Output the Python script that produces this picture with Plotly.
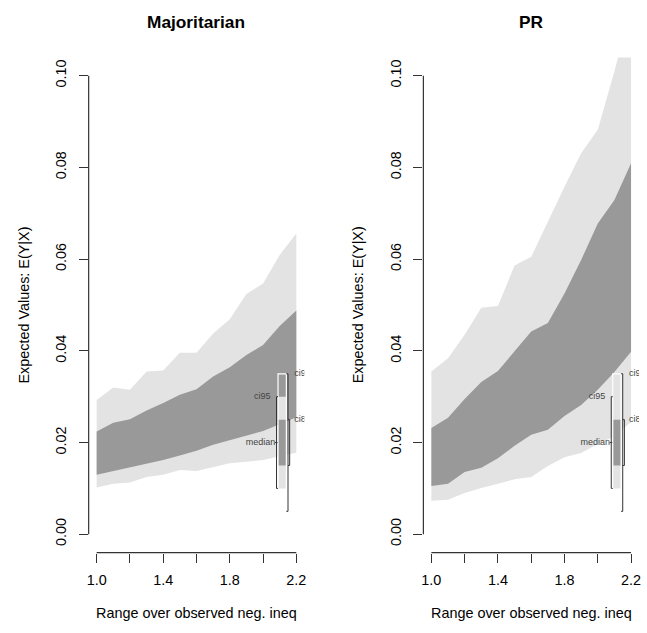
import plotly.graph_objects as go

# ---------------- data ----------------
x_vals = [1.0, 1.1, 1.2, 1.3, 1.4, 1.5, 1.6, 1.7, 1.8, 1.9, 2.0, 2.1, 2.2]

maj_lo95 = [0.0102, 0.0110, 0.0113, 0.0125, 0.0130, 0.0140, 0.0138, 0.0146, 0.0155, 0.0158, 0.0162, 0.0170, 0.0178]
maj_lo80 = [0.0130, 0.0138, 0.0145, 0.0153, 0.0162, 0.0172, 0.0182, 0.0195, 0.0205, 0.0215, 0.0225, 0.0240, 0.0255]
maj_hi80 = [0.0224, 0.0243, 0.0251, 0.0270, 0.0286, 0.0304, 0.0316, 0.0344, 0.0364, 0.0391, 0.0413, 0.0454, 0.0488]
maj_hi95 = [0.0293, 0.0320, 0.0315, 0.0355, 0.0357, 0.0396, 0.0396, 0.0438, 0.0469, 0.0524, 0.0547, 0.0609, 0.0656]

pr_lo95 = [0.0073, 0.0075, 0.0090, 0.0101, 0.0110, 0.0120, 0.0125, 0.0149, 0.0168, 0.0177, 0.0197, 0.0214, 0.0245]
pr_lo80 = [0.0105, 0.0110, 0.0136, 0.0145, 0.0166, 0.0193, 0.0217, 0.0228, 0.0258, 0.0282, 0.0315, 0.0354, 0.0398]
pr_hi80 = [0.0232, 0.0254, 0.0295, 0.0332, 0.0356, 0.0398, 0.0442, 0.0461, 0.0525, 0.0598, 0.0678, 0.0729, 0.0809]
pr_hi95 = [0.0355, 0.0384, 0.0435, 0.0494, 0.0498, 0.0586, 0.0605, 0.0682, 0.0758, 0.0831, 0.0882, 0.1010, 0.1150]

panel_titles = ["Majoritarian", "PR"]
x_ticks = [1.0, 1.2, 1.4, 1.6, 1.8, 2.0, 2.2]
x_ticktext = ["1.0", "", "1.4", "", "1.8", "", "2.2"]
y_ticks = [0.00, 0.02, 0.04, 0.06, 0.08, 0.10]
y_ticktext = ["0.00", "0.02", "0.04", "0.06", "0.08", "0.10"]

# legend key (interval levels used by the in-plot key)
key_999 = [0.005, 0.035]
key_95 = [0.010, 0.030]
key_80 = [0.015, 0.025]
key_median = 0.020

# ---------------- styling ----------------
W, H = 647, 633
LIGHT = "#e3e3e3"
DARK = "#999999"
AX = "#333333"
FONT = "Liberation Sans, Arial, Helvetica, sans-serif"

x_range = [0.952, 2.248]
y_range = [-0.004, 0.104]

panels_px = [(87.2, 304.2), (424.0, 641.0)]
y_top_px, y_bot_px = 57.4, 552.6

fig = go.Figure()

series = [(maj_lo95, maj_lo80, maj_hi80, maj_hi95), (pr_lo95, pr_lo80, pr_hi80, pr_hi95)]

layout_axes = {}
annotations = []
shapes = []

for i, (lo95, lo80, hi80, hi95) in enumerate(series):
    xa = "x" if i == 0 else "x2"
    ya = "y" if i == 0 else "y2"
    xname = "xaxis" if i == 0 else "xaxis2"
    yname = "yaxis" if i == 0 else "yaxis2"

    fig.add_trace(go.Scatter(x=x_vals, y=lo95, mode="lines", line=dict(width=0),
                             xaxis=xa, yaxis=ya, showlegend=False, hoverinfo="skip"))
    fig.add_trace(go.Scatter(x=x_vals, y=hi95, mode="lines", line=dict(width=0),
                             fill="tonexty", fillcolor=LIGHT,
                             xaxis=xa, yaxis=ya, showlegend=False, hoverinfo="skip"))
    fig.add_trace(go.Scatter(x=x_vals, y=lo80, mode="lines", line=dict(width=0),
                             xaxis=xa, yaxis=ya, showlegend=False, hoverinfo="skip"))
    fig.add_trace(go.Scatter(x=x_vals, y=hi80, mode="lines", line=dict(width=0),
                             fill="tonexty", fillcolor=DARK,
                             xaxis=xa, yaxis=ya, showlegend=False, hoverinfo="skip"))

    # key labels (clipped at the plot edge like the original)
    fig.add_trace(go.Scatter(x=[2.188, 2.188], y=[key_999[1], key_80[1]], mode="text",
                             text=["ci99.9", "ci80"], textposition="middle right",
                             textfont=dict(size=9, color="#444", family=FONT),
                             cliponaxis=True, xaxis=xa, yaxis=ya, showlegend=False, hoverinfo="skip"))
    fig.add_trace(go.Scatter(x=[2.045, 2.074], y=[key_95[1], key_median], mode="text",
                             text=["ci95", "median"], textposition="middle left",
                             textfont=dict(size=9, color="#444", family=FONT),
                             cliponaxis=True, xaxis=xa, yaxis=ya, showlegend=False, hoverinfo="skip"))

    x0px, x1px = panels_px[i]
    layout_axes[xname] = dict(
        domain=[x0px / W, x1px / W], range=x_range, anchor=ya,
        showgrid=False, zeroline=False, showline=False,
        tickmode="array", tickvals=x_ticks, ticktext=x_ticktext,
        ticks="outside", ticklen=9, tickwidth=1.2, tickcolor=AX,
        tickfont=dict(size=14.4, color="#000", family=FONT), ticklabelstandoff=5,
    )
    layout_axes[yname] = dict(
        domain=[(H - y_bot_px) / H, (H - y_top_px) / H], range=y_range, anchor=xa,
        showgrid=False, zeroline=False, showline=False,
        tickmode="array", tickvals=y_ticks, ticktext=y_ticktext, tickangle=-90,
        ticks="outside", ticklen=9, tickwidth=1.2, tickcolor=AX,
        tickfont=dict(size=14.4, color="#000", family=FONT), ticklabelstandoff=7,
    )

    xd = "x domain" if i == 0 else "x2 domain"
    yd = "y domain" if i == 0 else "y2 domain"
    # axis lines spanning first..last tick
    shapes.append(dict(type="line", xref=xd, yref=ya, x0=0, x1=0, y0=y_ticks[0], y1=y_ticks[-1],
                       line=dict(color=AX, width=1.2)))
    shapes.append(dict(type="line", xref=xa, yref=yd, x0=x_ticks[0], x1=x_ticks[-1], y0=0, y1=0,
                       line=dict(color=AX, width=1.2)))

    # in-plot key
    kx0, kx1 = 2.090, 2.140
    shapes.append(dict(type="rect", xref=xa, yref=ya, x0=kx0, x1=kx1, y0=key_95[0], y1=key_95[1],
                       fillcolor=LIGHT, line=dict(width=0)))
    shapes.append(dict(type="rect", xref=xa, yref=ya, x0=kx0, x1=kx1, y0=key_80[0], y1=key_80[1],
                       fillcolor=DARK, line=dict(width=0)))
    shapes.append(dict(type="rect", xref=xa, yref=ya, x0=kx0, x1=kx1, y0=key_999[0], y1=key_999[1],
                       fillcolor="rgba(0,0,0,0)", line=dict(color="white", width=1.2)))
    # ci95 bracket (left)
    bl = 2.081
    shapes.append(dict(type="line", xref=xa, yref=ya, x0=bl, x1=bl, y0=key_95[0], y1=key_95[1],
                       line=dict(color=AX, width=1)))
    for yv in key_95:
        shapes.append(dict(type="line", xref=xa, yref=ya, x0=bl, x1=kx0, y0=yv, y1=yv,
                           line=dict(color=AX, width=1)))
    # median tick
    shapes.append(dict(type="line", xref=xa, yref=ya, x0=2.072, x1=2.087, y0=key_median, y1=key_median,
                       line=dict(color=AX, width=1)))
    # ci99.9 line (right)
    br = 2.150
    shapes.append(dict(type="line", xref=xa, yref=ya, x0=br, x1=br, y0=key_999[0], y1=key_999[1],
                       line=dict(color=AX, width=1)))
    for yv in key_999:
        shapes.append(dict(type="line", xref=xa, yref=ya, x0=kx1, x1=br, y0=yv, y1=yv,
                           line=dict(color=AX, width=1)))
    # ci80 bracket (right)
    br2 = 2.160
    shapes.append(dict(type="line", xref=xa, yref=ya, x0=br2, x1=br2, y0=key_80[0], y1=key_80[1],
                       line=dict(color=AX, width=1)))
    for yv in key_80:
        shapes.append(dict(type="line", xref=xa, yref=ya, x0=br, x1=br2, y0=yv, y1=yv,
                           line=dict(color=AX, width=1)))

    cx = (x0px + x1px) / 2 / W
    annotations.append(dict(text="<b>%s</b>" % panel_titles[i], x=cx, y=(H - 22) / H,
                            xref="paper", yref="paper", showarrow=False, xanchor="center", yanchor="middle",
                            font=dict(size=17.3, color="#000", family=FONT)))
    annotations.append(dict(text="Range over observed neg. ineq", x=cx, y=(H - 612.5) / H,
                            xref="paper", yref="paper", showarrow=False, xanchor="center", yanchor="middle",
                            font=dict(size=14.4, color="#000", family=FONT)))
    annotations.append(dict(text="Expected Values: E(Y|X)", x=(x0px - 65.5) / W,
                            y=(H - (y_top_px + y_bot_px) / 2) / H, textangle=-90,
                            xref="paper", yref="paper", showarrow=False, xanchor="center", yanchor="middle",
                            font=dict(size=14.4, color="#000", family=FONT)))

fig.update_layout(
    width=W, height=H, margin=dict(l=0, r=0, t=0, b=0),
    paper_bgcolor="white", plot_bgcolor="white",
    showlegend=False, annotations=annotations, shapes=shapes,
    **layout_axes,
)

fig.write_html("out.html")
